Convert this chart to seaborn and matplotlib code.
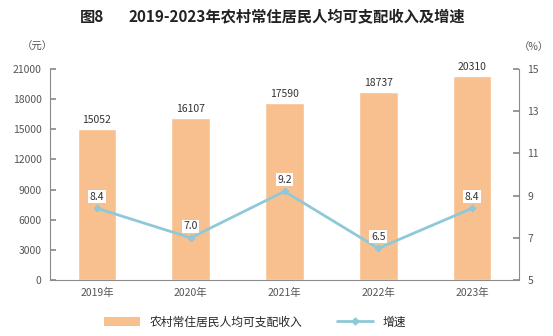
import matplotlib
matplotlib.use("Agg")
import matplotlib.pyplot as plt
import seaborn as sns
import pandas as pd
from matplotlib.lines import Line2D
from matplotlib.patches import Patch

years = ["2019年", "2020年", "2021年", "2022年", "2023年"]
income = [15052, 16107, 17590, 18737, 20310]
growth = [8.4, 7.0, 9.2, 6.5, 8.4]
left_ticks = [0, 3000, 6000, 9000, 12000, 15000, 18000, 21000]
right_ticks = [5, 7, 9, 11, 13, 15]

sns.set_theme(style="white")
plt.rcParams['font.family'] = ['Noto Sans CJK SC', 'DejaVu Sans']

bar_color = "#F9C08F"
line_color = "#8FC9D9"
grey = "#8c8c8c"

df = pd.DataFrame({"year": years, "income": income, "growth": growth})

fig = plt.figure(figsize=(5.53, 3.36), dpi=100)
ax = fig.add_axes([50/553, 1-280/336, 469/553, 211/336])
sns.barplot(data=df, x="year", y="income", color=bar_color, width=0.41, ax=ax, saturation=1)
ax.set_ylim(0, 21000)
ax.set_yticks(left_ticks)
ax.set_yticklabels([str(t) for t in left_ticks], fontsize=7.5, color="#555555")
ax.set_xlabel("")
ax.set_ylabel("")
ax.tick_params(axis="x", length=0, labelsize=7.5, labelcolor="#555555", pad=6)
ax.tick_params(axis="y", direction="in", length=4, color=grey, left=True, pad=6)
for s in ["top", "right"]:
    ax.spines[s].set_visible(False)
for s in ["left", "bottom"]:
    ax.spines[s].set_color(grey)
    ax.spines[s].set_linewidth(0.8)
for i, v in enumerate(income):
    ax.text(i, v + 400, str(v), ha="center", va="bottom", fontsize=7.5, color="#333333")

ax2 = ax.twinx()
sns.lineplot(x=list(range(len(years))), y=growth, ax=ax2, color=line_color, linewidth=2,
             marker="D", markersize=3.5, markeredgecolor=line_color)
ax2.set_ylim(5, 15)
ax2.set_yticks(right_ticks)
ax2.set_yticklabels([str(t) for t in right_ticks], fontsize=7.5, color="#555555")
ax2.tick_params(axis="y", direction="in", length=4, color=grey, right=True, pad=6)
for s in ["top", "left", "bottom"]:
    ax2.spines[s].set_visible(False)
ax2.spines["right"].set_color(grey)
ax2.spines["right"].set_linewidth(0.8)
ax2.set_ylabel("")
for i, g in enumerate(growth):
    ax2.text(i, g + 0.55, f"{g:.1f}", ha="center", va="center", fontsize=7.5, color="#333333",
             bbox=dict(boxstyle="square,pad=0.15", fc="white", ec="none"))
ax.set_xlim(-0.5, len(years) - 0.5)

fig.text(92/553, 1-17/336, "图8", ha="center", va="center",
         fontsize=11, fontweight="bold", color="#222222")
fig.text(297/553, 1-17/336, "2019-2023年农村常住居民人均可支配收入及增速", ha="center", va="center",
         fontsize=11, fontweight="bold", color="#222222")
fig.text(22/553, 1-47/336, "（元）", ha="left", va="center", fontsize=7.5, color="#555555")
fig.text(534/553, 1-47/336, "（%）", ha="center", va="center", fontsize=7.5, color="#555555")

handles = [Patch(facecolor=bar_color, edgecolor="none"),
           Line2D([0], [0], color=line_color, lw=2, marker="D", markersize=3.5)]
fig.legend(handles, ["农村常住居民人均可支配收入", "增速"], loc="center", bbox_to_anchor=(255/553, 1-322/336),
           ncol=2, frameon=False, fontsize=8.5, columnspacing=3, handlelength=3, handleheight=0.8)

fig.savefig("out.png", dpi=100)
